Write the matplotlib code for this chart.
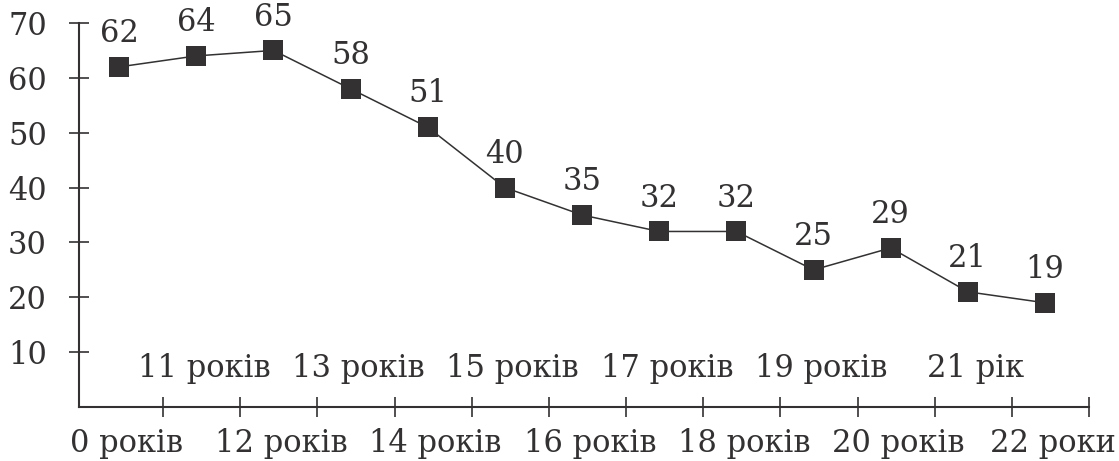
import matplotlib
matplotlib.use("Agg")
from matplotlib import pyplot as plt
import numpy as np

ages = ['0 років', '11 років', '12 років', '13 років', '14 років', '15 років',
        '16 років', '17 років', '18 років', '19 років', '20 років', '21 рік',
        '22 роки']
values = [62, 64, 65, 58, 51, 40, 35, 32, 32, 25, 29, 21, 19]
y_ticks = [10, 20, 30, 40, 50, 60, 70]

INK = '#333132'
FONT = 'DejaVu Serif'
FS = 22

plt.rcParams['font.family'] = FONT

fig = plt.figure(figsize=(11.19, 4.61), dpi=100)
ax = fig.add_axes([0.0706, 0.1171, 0.9026, 0.833])

x = np.arange(len(values))
ax.plot(x, values, color=INK, lw=1.1, marker='s', markersize=15,
        markeredgewidth=0, markerfacecolor=INK, clip_on=False, zorder=3)

for xi, v in zip(x, values):
    ax.annotate(str(v), (xi, v), xytext=(0, 24), textcoords='offset points',
                ha='center', va='center', fontsize=FS, color=INK)

# category labels: even ones under the axis, odd ones just above it
for i, lab in enumerate(ages):
    if i % 2 == 0:
        ax.text(i + 0.1, -0.117, lab, transform=ax.get_xaxis_transform(),
                ha='center', va='baseline', fontsize=FS, color=INK)
    else:
        ax.text(i + 0.1, 0.078, lab, transform=ax.get_xaxis_transform(),
                ha='center', va='baseline', fontsize=FS, color=INK)

ax.set_xlim(-0.52, len(values) - 1 + 0.57)
ax.set_ylim(0, 70)
ax.set_xticks(x + 0.57)
ax.set_xticklabels([])
ax.set_yticks(y_ticks)
ax.set_yticklabels([str(t) for t in y_ticks], fontsize=FS, color=INK)

for side in ['top', 'right']:
    ax.spines[side].set_visible(False)
for side in ['left', 'bottom']:
    ax.spines[side].set_color(INK)
    ax.spines[side].set_linewidth(1.5)

ax.tick_params(axis='both', direction='inout', length=14.4, width=1.2,
               color=INK)
ax.tick_params(axis='y', pad=16)

fig.savefig('out.png', dpi=100)
